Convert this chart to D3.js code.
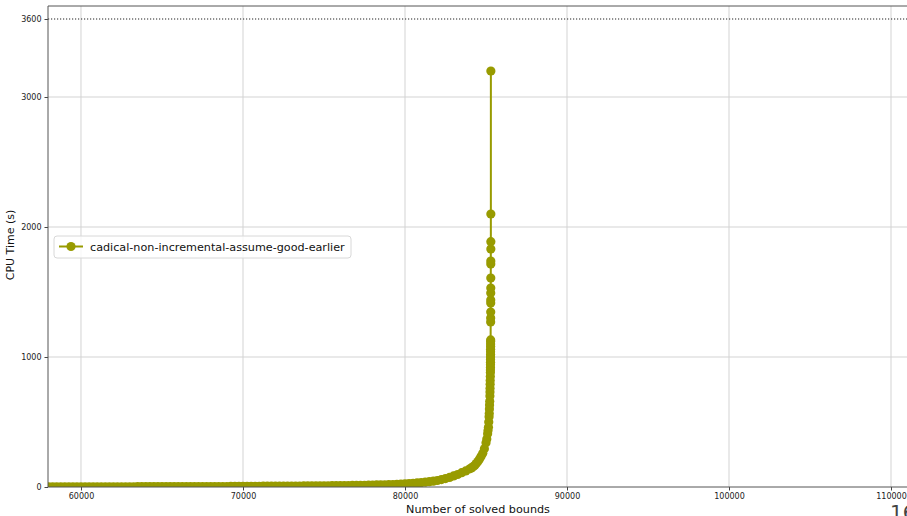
<!DOCTYPE html>
<html>
<head>
<meta charset="utf-8">
<script src="https://cdn.jsdelivr.net/npm/d3@7"></script>
<style>
  body { margin: 0; background: #fff; }
  svg { display: block; font-family: "DejaVu Sans", sans-serif; }
</style>
</head>
<body>
<svg id="chart" width="907" height="516"></svg>
<script>
const seriesName = "cadical-non-incremental-assume-good-earlier";

// number of solved bounds (x) and cumulative cpu time (y)
const solved = [
  58000, 58250, 58500, 58750, 59000, 59250, 59500, 59750, 60000,
  60250, 60500, 60750, 61000, 61250, 61500, 61750, 62000,
  62250, 62500, 62750, 63000, 63250, 63500, 63750, 64000,
  64250, 64500, 64750, 65000, 65250, 65500, 65750, 66000,
  66250, 66500, 66750, 67000, 67250, 67500, 67750, 68000,
  68250, 68500, 68750, 69000, 69250, 69500, 69750, 70000,
  70250, 70500, 70750, 71000, 71250, 71500, 71750, 72000,
  72250, 72500, 72750, 73000, 73250, 73500, 73750, 74000,
  74250, 74500, 74750, 75000, 75250, 75500, 75750, 76000,
  76250, 76500, 76750, 77000, 77250, 77500, 77750, 78000,
  78250, 78500, 78750, 79000, 79250, 79500, 79750, 80000,
  80250, 80500, 80750, 81000, 81250, 81500, 81750, 82000,
  82250, 82500, 82750, 83000, 83250, 83500, 83750, 84000,
  84100, 84200, 84300, 84400, 84500, 84600, 84700, 84800, 84900, 85000,
  85050, 85100, 85125, 85150, 85170, 85190, 85200, 85210, 85220, 85230,
  85240, 85245, 85250, 85255, 85260, 85265, 85270, 85272, 85274, 85276,
  85278, 85279, 85280, 85281, 85282, 85283, 85284, 85285, 85286, 85287,
  85288, 85289, 85290, 85291, 85292, 85293, 85294, 85295, 85296, 85297,
  85298, 85299, 85300, 85301
];
const cpuTime = [
  1, 1, 1, 1, 1, 1, 1, 1, 1,
  1, 2, 2, 2, 2, 2, 2, 2,
  2, 2, 2, 2, 2, 3, 3, 3,
  3, 3, 3, 3, 3, 3, 3, 3,
  3, 3, 4, 4, 4, 4, 4, 4,
  4, 4, 4, 4, 5, 5, 5, 5,
  5, 5, 5, 5, 6, 6, 6, 6,
  6, 6, 7, 7, 7, 7, 8, 8,
  8, 8, 9, 9, 9, 10, 10, 10,
  11, 11, 12, 12, 13, 13, 14, 15,
  16, 17, 17, 18, 19, 21, 23, 25,
  27, 29, 31, 34, 37, 41, 45, 50,
  57, 65, 74, 85, 96, 110, 124, 140,
  147, 155, 166, 180, 196, 215, 236, 260, 295, 340,
  370, 410, 435, 460, 500, 540, 565, 600, 630, 660,
  700, 730, 760, 790, 820, 850, 880, 900, 920, 940,
  960, 980, 1000, 1020, 1040, 1060, 1080, 1100, 1120, 1131,
  1270, 1300, 1346, 1415, 1438, 1492, 1530, 1607, 1715, 1738,
  1830, 1887, 2100, 3200
];

const xTicks = [60000, 70000, 80000, 90000, 100000, 110000];
const yTicks = [0, 1000, 2000, 3000, 3600];
const timeout = 3600;

const svg = d3.select("#chart");
const mLeft = 48, mTop = 6, mRight = 912, mBottom = 487;
const color = "#989b00";

const x = d3.scaleLinear().domain([57963, 111296]).range([mLeft, mRight]);
const y = d3.scaleLinear().domain([0, 3700]).range([mBottom, mTop]);

svg.append("defs").append("clipPath").attr("id", "clip")
  .append("rect").attr("x", mLeft).attr("y", mTop)
  .attr("width", mRight - mLeft).attr("height", mBottom - mTop);

// grid
const grid = svg.append("g");
grid.selectAll("line.vx").data(xTicks).join("line")
  .attr("x1", d => x(d)).attr("x2", d => x(d))
  .attr("y1", mTop).attr("y2", mBottom)
  .attr("stroke", "#d3d3d3").attr("stroke-width", 1);
grid.selectAll("line.hy").data(yTicks.filter(d => d > 0 && d < timeout)).join("line")
  .attr("x1", mLeft).attr("x2", mRight)
  .attr("y1", d => y(d)).attr("y2", d => y(d))
  .attr("stroke", "#d3d3d3").attr("stroke-width", 1);

// timeout line
svg.append("line")
  .attr("x1", mLeft).attr("x2", mRight)
  .attr("y1", y(timeout)).attr("y2", y(timeout))
  .attr("stroke", "#222").attr("stroke-width", 1.2)
  .attr("stroke-dasharray", "1.2,1.8");

// series
const pts = solved.map((s, i) => [s, cpuTime[i]]);
const plot = svg.append("g").attr("clip-path", "url(#clip)");
plot.append("path")
  .datum(pts)
  .attr("fill", "none")
  .attr("stroke", color)
  .attr("stroke-width", 2)
  .attr("d", d3.line().x(d => x(d[0])).y(d => y(d[1])));
plot.selectAll("circle").data(pts).join("circle")
  .attr("cx", d => x(d[0])).attr("cy", d => y(d[1]))
  .attr("r", 4.6)
  .attr("fill", color);

// axes
const xAxis = svg.append("g").attr("transform", `translate(0,${mBottom})`)
  .call(d3.axisBottom(x).tickValues(xTicks).tickSize(3.5).tickPadding(3).tickFormat(d3.format("d")));
const yAxis = svg.append("g").attr("transform", `translate(${mLeft},0)`)
  .call(d3.axisLeft(y).tickValues(yTicks).tickSize(3.5).tickPadding(3).tickFormat(d3.format("d")));
[xAxis, yAxis].forEach(a => {
  a.select(".domain").remove();
  a.selectAll("text").attr("font-size", 8).attr("fill", "#222").attr("font-family", "DejaVu Sans");
  a.selectAll(".tick line").attr("stroke", "#444");
});

// spines
svg.append("line").attr("x1", mLeft).attr("x2", mLeft).attr("y1", mTop).attr("y2", mBottom)
  .attr("stroke", "#555").attr("stroke-width", 1);
svg.append("line").attr("x1", mLeft).attr("x2", mRight).attr("y1", mTop).attr("y2", mTop)
  .attr("stroke", "#555").attr("stroke-width", 1);
svg.append("line").attr("x1", mLeft).attr("x2", mRight).attr("y1", mBottom).attr("y2", mBottom)
  .attr("stroke", "#555").attr("stroke-width", 1);

// axis labels
svg.append("text")
  .attr("x", 478).attr("y", 513)
  .attr("text-anchor", "middle")
  .attr("font-size", 11.2).attr("fill", "#111")
  .text("Number of solved bounds");
svg.append("text")
  .attr("transform", "translate(14,245) rotate(-90)")
  .attr("text-anchor", "middle")
  .attr("font-size", 11).attr("fill", "#111")
  .text("CPU Time (s)");

// legend
const legend = svg.append("g").attr("transform", "translate(54,236)");
legend.append("rect")
  .attr("width", 297).attr("height", 22).attr("rx", 3)
  .attr("fill", "#fff").attr("fill-opacity", 0.8)
  .attr("stroke", "#d8d8d8");
legend.append("line")
  .attr("x1", 5).attr("x2", 29).attr("y1", 10.5).attr("y2", 10.5)
  .attr("stroke", color).attr("stroke-width", 2);
legend.append("circle").attr("cx", 17).attr("cy", 10.5).attr("r", 4.6).attr("fill", color);
legend.append("text")
  .attr("x", 36).attr("y", 15)
  .attr("font-size", 11.2).attr("fill", "#111")
  .text(seriesName);

// page number fragment at bottom right
svg.append("text")
  .attr("x", 890).attr("y", 519)
  .attr("font-size", 20).attr("fill", "#444")
  .text("16");
</script>
</body>
</html>
